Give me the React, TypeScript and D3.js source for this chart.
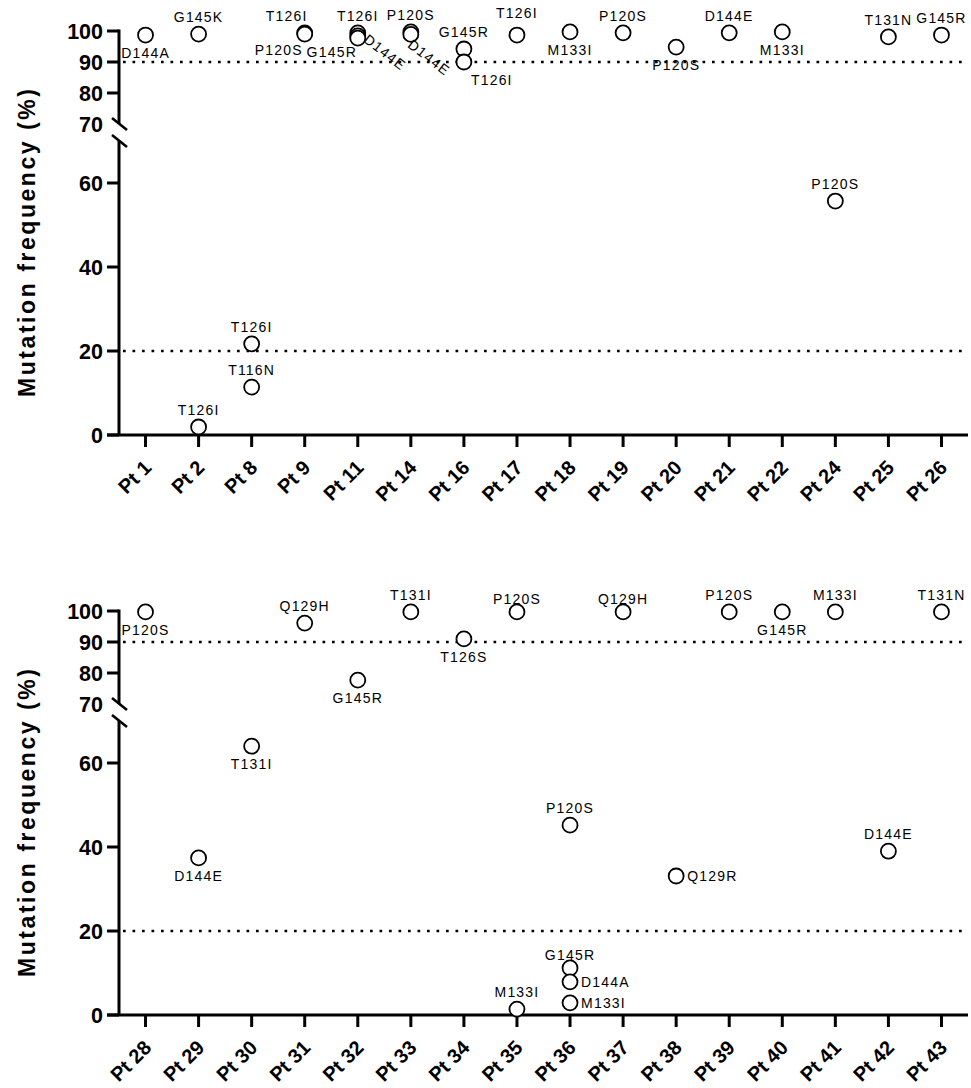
import React from 'react';
import * as d3 from 'd3';

// patients on each panel
const topPatients = ['Pt 1', 'Pt 2', 'Pt 8', 'Pt 9', 'Pt 11', 'Pt 14', 'Pt 16', 'Pt 17',
  'Pt 18', 'Pt 19', 'Pt 20', 'Pt 21', 'Pt 22', 'Pt 24', 'Pt 25', 'Pt 26'];
const bottomPatients = ['Pt 28', 'Pt 29', 'Pt 30', 'Pt 31', 'Pt 32', 'Pt 33', 'Pt 34', 'Pt 35',
  'Pt 36', 'Pt 37', 'Pt 38', 'Pt 39', 'Pt 40', 'Pt 41', 'Pt 42', 'Pt 43'];

// [patient, mutation, frequency %, where the label sits]
type Mut = [string, string, number, string];

const topMutations: Mut[] = [
  ['Pt 1', 'D144A', 98.7, 'below'],
  ['Pt 2', 'G145K', 99.0, 'above'],
  ['Pt 2', 'T126I', 1.9, 'above'],
  ['Pt 8', 'T126I', 21.7, 'above'],
  ['Pt 8', 'T116N', 11.4, 'above'],
  ['Pt 9', 'T126I', 99.4, 'aboveLeft'],
  ['Pt 9', 'P120S', 99.0, 'belowLeft'],
  ['Pt 11', 'T126I', 99.4, 'above'],
  ['Pt 11', 'G145R', 98.4, 'belowLeft'],
  ['Pt 11', 'D144E', 97.7, 'diag'],
  ['Pt 14', 'P120S', 99.7, 'above'],
  ['Pt 14', 'D144E', 98.9, 'diagLow'],
  ['Pt 16', 'G145R', 94.2, 'above'],
  ['Pt 16', 'T126I', 90.0, 'belowRight'],
  ['Pt 17', 'T126I', 98.7, 'aboveHigh'],
  ['Pt 18', 'M133I', 99.7, 'below'],
  ['Pt 19', 'P120S', 99.4, 'above'],
  ['Pt 20', 'P120S', 94.8, 'below'],
  ['Pt 21', 'D144E', 99.4, 'above'],
  ['Pt 22', 'M133I', 99.7, 'below'],
  ['Pt 24', 'P120S', 55.7, 'above'],
  ['Pt 25', 'T131N', 98.1, 'above'],
  ['Pt 26', 'G145R', 98.7, 'above'],
];

const bottomMutations: Mut[] = [
  ['Pt 28', 'P120S', 99.7, 'below'],
  ['Pt 29', 'D144E', 37.4, 'below'],
  ['Pt 30', 'T131I', 64.0, 'below'],
  ['Pt 31', 'Q129H', 96.1, 'above'],
  ['Pt 32', 'G145R', 77.7, 'below'],
  ['Pt 33', 'T131I', 99.7, 'above'],
  ['Pt 34', 'T126S', 91.0, 'below'],
  ['Pt 35', 'P120S', 99.7, 'aboveTight'],
  ['Pt 35', 'M133I', 1.4, 'above'],
  ['Pt 36', 'P120S', 45.2, 'above'],
  ['Pt 36', 'G145R', 11.2, 'aboveTight'],
  ['Pt 36', 'D144A', 7.9, 'right'],
  ['Pt 36', 'M133I', 2.9, 'right'],
  ['Pt 37', 'Q129H', 99.7, 'aboveTight'],
  ['Pt 38', 'Q129R', 33.1, 'right'],
  ['Pt 39', 'P120S', 99.7, 'above'],
  ['Pt 40', 'G145R', 99.7, 'below'],
  ['Pt 41', 'M133I', 99.7, 'above'],
  ['Pt 42', 'D144E', 39.0, 'above'],
  ['Pt 43', 'T131N', 99.7, 'above'],
];

const upperTicks = [100, 90, 80];
const lowerTicks = [0, 20, 40, 60];
const breakValue = 70;
const thresholds = [90, 20];

const font = "Arial, 'Liberation Sans', sans-serif";

// label offsets relative to the circle centre
const placements: Record<string, { dx: number; dy: number; anchor: string; rot?: number }> = {
  above: { dx: 0, dy: -12, anchor: 'middle' },
  aboveTight: { dx: 0, dy: -8, anchor: 'middle' },
  aboveHigh: { dx: 0, dy: -17, anchor: 'middle' },
  aboveLeft: { dx: -18, dy: -12, anchor: 'middle' },
  below: { dx: 0, dy: 23, anchor: 'middle' },
  belowLeft: { dx: -26, dy: 21, anchor: 'middle' },
  belowRight: { dx: 7, dy: 23, anchor: 'start' },
  right: { dx: 11, dy: 5, anchor: 'start' },
  diag: { dx: 5, dy: 3, anchor: 'start', rot: 38 },
  diagLow: { dx: -4, dy: 12, anchor: 'start', rot: 38 },
};

const axisX = 119;
const right = 968;

function Panel({ patients, mutations, top }: { patients: string[]; mutations: Mut[]; top: number }) {
  const x = d3.scalePoint<string>().domain(patients).range([axisX, right]).padding(0.5);
  const yHigh = d3.scaleLinear().domain([breakValue, 100]).range([124, 31]);
  const yLow = d3.scaleLinear().domain([0, breakValue]).range([435, 141]);
  const y = (v: number) => (v > breakValue ? yHigh(v) : yLow(v));
  const base = yLow(0);

  return (
    <g transform={`translate(0,${top})`}>
      {/* threshold lines */}
      {thresholds.map(t => (
        <line key={t} x1={axisX + 4} x2={right} y1={y(t)} y2={y(t)}
          stroke="#000" strokeWidth={2.7} strokeDasharray="2.7 6.8" />
      ))}

      {/* y axis, two segments */}
      <line x1={axisX} x2={axisX} y1={yHigh(100) - 1.5} y2={yHigh(breakValue)} stroke="#000" strokeWidth={3} />
      <line x1={axisX} x2={axisX} y1={yLow(breakValue)} y2={base} stroke="#000" strokeWidth={3} />
      {[yHigh(breakValue), yLow(breakValue)].map((yy, i) => (
        <line key={i} x1={axisX - 7} x2={axisX + 8} y1={yy - 6} y2={yy + 6} stroke="#000" strokeWidth={2.6} />
      ))}
      {upperTicks.map(t => (
        <g key={t}>
          <line x1={axisX - 12} x2={axisX} y1={yHigh(t)} y2={yHigh(t)} stroke="#000" strokeWidth={3} />
          <text x={axisX - 16} y={yHigh(t) + 7.5} textAnchor="end" fontFamily={font} fontWeight="bold" fontSize={21.5}>{t}</text>
        </g>
      ))}
      <text x={axisX - 16} y={yHigh(breakValue) + 7.5} textAnchor="end" fontFamily={font} fontWeight="bold" fontSize={21.5}>{breakValue}</text>
      {lowerTicks.map(t => (
        <g key={t}>
          <line x1={axisX - 12} x2={axisX} y1={yLow(t)} y2={yLow(t)} stroke="#000" strokeWidth={3} />
          <text x={axisX - 16} y={yLow(t) + 7.5} textAnchor="end" fontFamily={font} fontWeight="bold" fontSize={21.5}>{t}</text>
        </g>
      ))}
      <text transform={`translate(35,${(yHigh(100) + base) / 2 + 10}) rotate(-90)`} textAnchor="middle"
        fontFamily={font} fontWeight="bold" fontSize={23} textLength={308} lengthAdjust="spacing">
        Mutation frequency (%)
      </text>

      {/* x axis */}
      <line x1={axisX - 12} x2={right} y1={base} y2={base} stroke="#000" strokeWidth={3} />
      {patients.map(p => (
        <g key={p}>
          <line x1={x(p)} x2={x(p)} y1={base} y2={base + 12} stroke="#000" strokeWidth={3} />
          <text transform={`translate(${(x(p) as number) + 7},${base + 34}) rotate(-45)`} textAnchor="end"
            fontFamily={font} fontWeight="bold" fontSize={20}>{p}</text>
        </g>
      ))}

      {/* points */}
      {mutations.map((m, i) => (
        <circle key={i} cx={x(m[0])} cy={y(m[2])} r={7.5} fill="#fff" stroke="#000" strokeWidth={1.8} />
      ))}
      {mutations.map((m, i) => {
        const pl = placements[m[3]];
        const lx = (x(m[0]) as number) + pl.dx;
        const ly = y(m[2]) + pl.dy;
        return (
          <text key={i} transform={`translate(${lx},${ly})${pl.rot ? ` rotate(${pl.rot})` : ''}`}
            textAnchor={pl.anchor} fontFamily={font} fontSize={14} letterSpacing={1.2}>{m[1]}</text>
        );
      })}
    </g>
  );
}

export default function App() {
  return (
    <svg width={971} height={1088} style={{ position: 'absolute', left: 0, top: 0, background: '#fff' }}>
      <rect width={971} height={1088} fill="#fff" />
      <Panel patients={topPatients} mutations={topMutations} top={0} />
      <Panel patients={bottomPatients} mutations={bottomMutations} top={580} />
    </svg>
  );
}
